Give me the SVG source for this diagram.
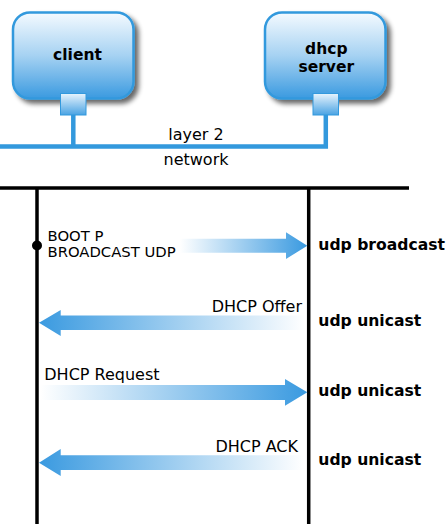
<svg xmlns="http://www.w3.org/2000/svg" width="446" height="524" viewBox="0 0 446 524">
<style>
.box{stroke:#3399dd;stroke-width:2.5;fill:url(#gBox)}
.port{stroke:#3399dd;stroke-width:1;fill:url(#gPort)}
.net{stroke:#3399dd;stroke-width:4.5;fill:none}
.life{stroke:#000;stroke-width:3.5;fill:none}
.lbl{font-family:"DejaVu Sans",Verdana,sans-serif;fill:#000}
.nb{font-family:"DejaVu Sans",Verdana,sans-serif;font-weight:bold;font-size:15.5px;fill:#000;text-anchor:middle}
.ub{font-family:"DejaVu Sans",Verdana,sans-serif;font-weight:bold;font-size:15.6px;fill:#000}
</style>
<defs>
<linearGradient id="gBox" x1="0" y1="0" x2="0" y2="1">
<stop offset="0" stop-color="#f4faff"/>
<stop offset="0.5" stop-color="#a6d2f2"/>
<stop offset="1" stop-color="#3a9ae0"/>
</linearGradient>
<linearGradient id="gPort" x1="0" y1="0" x2="0" y2="1">
<stop offset="0" stop-color="#e8f4fd"/>
<stop offset="1" stop-color="#4aa3e3"/>
</linearGradient>
<linearGradient id="gR" x1="0" y1="0" x2="1" y2="0">
<stop offset="0" stop-color="#3a9ae0" stop-opacity="0"/>
<stop offset="1" stop-color="#3a9ae0"/>
</linearGradient>
<linearGradient id="gL" x1="0" y1="0" x2="1" y2="0">
<stop offset="0" stop-color="#3a9ae0"/>
<stop offset="1" stop-color="#3a9ae0" stop-opacity="0"/>
</linearGradient>
<filter id="sh" x="-20%" y="-20%" width="150%" height="150%">
<feGaussianBlur in="SourceAlpha" stdDeviation="2.5"/>
<feOffset dx="4" dy="4" result="b"/>
<feComponentTransfer><feFuncA type="linear" slope="0.6"/></feComponentTransfer>
<feMerge><feMergeNode/><feMergeNode in="SourceGraphic"/></feMerge>
</filter>
</defs>

<g id="connectors">
<path class="net" d="M0 146.5 H325.8 V115"/>
<path class="net" d="M73.3 146.5 V115"/>
<path class="life" d="M0 188 H409"/>
<path class="life" d="M37 188 V524"/>
<path class="life" d="M308.7 188 V524"/>
<circle cx="37" cy="245.5" r="5" fill="#000"/>
<path d="M180 238.7 H286 V232.3 L307.3 245.7 L286 259 V252.7 H180 Z" fill="url(#gR)"/>
<path d="M305 315.5 H60.7 V310 L39 322.8 L60.7 336 V330 H305 Z" fill="url(#gL)"/>
<path d="M40.7 385 H285 V379 L307.3 392.3 L285 405.7 V400 H40.7 Z" fill="url(#gR)"/>
<path d="M304 455.3 H60.7 V449 L39 462.7 L60.7 476 V470 H304 Z" fill="url(#gL)"/>
</g>

<g id="client">
<rect class="box" x="13" y="12.5" width="120.5" height="86" rx="17" filter="url(#sh)"/>
<rect class="port" x="60.5" y="93.5" width="25.5" height="21.5"/>
<text class="nb" x="77.5" y="59.5">client</text>
</g>

<g id="server">
<rect class="box" x="265" y="12.5" width="120.5" height="86" rx="17" filter="url(#sh)"/>
<rect class="port" x="313" y="93.5" width="25.5" height="21.5"/>
<text class="nb" x="326.3" y="53.5">dhcp</text>
<text class="nb" x="326.3" y="71.8">server</text>
</g>

<g id="labels">
<text class="lbl" font-size="16" x="196" y="140" text-anchor="middle">layer 2</text>
<text class="lbl" font-size="16" x="196" y="165" text-anchor="middle">network</text>
<text class="lbl" font-size="14.8" x="47.5" y="241">BOOT P</text>
<text class="lbl" font-size="14.8" x="47.5" y="257.3">BROADCAST UDP</text>
<text class="ub" x="318.3" y="250.2">udp broadcast</text>
<text class="lbl" font-size="16" x="302" y="311.5" text-anchor="end">DHCP Offer</text>
<text class="ub" x="318.3" y="326">udp unicast</text>
<text class="lbl" font-size="16" x="44.3" y="380">DHCP Request</text>
<text class="ub" x="318.3" y="395.7">udp unicast</text>
<text class="lbl" font-size="16" x="298" y="451.5" text-anchor="end">DHCP ACK</text>
<text class="ub" x="318.3" y="465">udp unicast</text>
</g>
</svg>
